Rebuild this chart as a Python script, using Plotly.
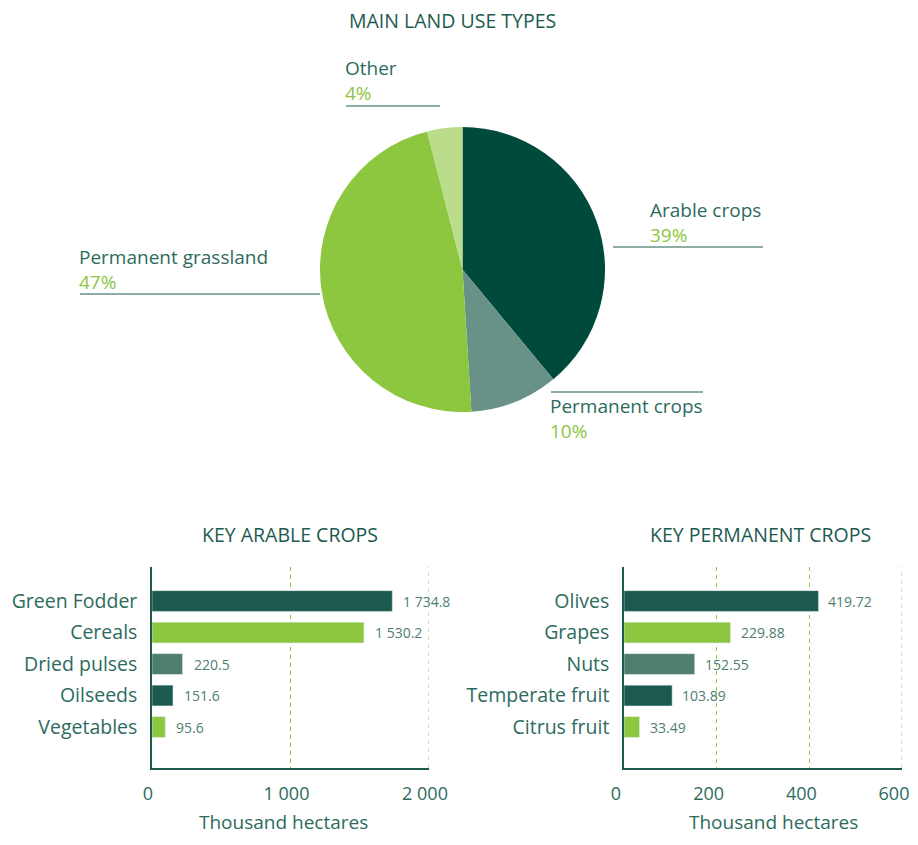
"""Land use overview: pie of main land use types plus two bar charts of key crops."""

import plotly.graph_objects as go

# page body has an 8px margin, so the figure is drawn 8px in from the corner
OFF = 8
W, H = 918 - 2 * OFF, 845 - 2 * OFF

DARK = "#1c5a4e"
MID = "#4e7e70"
LIME = "#8dc63f"
TEXT = "#2d6b5d"
FONT = "Open Sans, sans-serif"

# pie data
land_types = ["Arable crops", "Permanent crops", "Permanent grassland", "Other"]
land_shares = [39, 10, 47, 4]
land_colors = ["#004a3c", "#689188", LIME, "#badc8b"]

# key arable crops (thousand hectares)
arable_crops = ["Green Fodder", "Cereals", "Dried pulses", "Oilseeds", "Vegetables"]
arable_values = [1734.8, 1530.2, 220.5, 151.6, 95.6]
arable_ticks = [0, 1000, 2000]

# key permanent crops (thousand hectares)
perm_crops = ["Olives", "Grapes", "Nuts", "Temperate fruit", "Citrus fruit"]
perm_values = [419.72, 229.88, 152.55, 103.89, 33.49]
perm_ticks = [0, 200, 400, 600]

bar_colors = [DARK, LIME, MID, DARK, LIME]
value_title = "Thousand hectares"


def px_x(x):
    return (x - OFF) / W


def px_y(y):
    return 1 - (y - OFF) / H


def fmt(v, nd):
    return f"{v:,.{nd}f}".replace(",", " ")


fig = go.Figure()

fig.add_trace(
    go.Pie(
        labels=land_types,
        values=land_shares,
        marker=dict(colors=land_colors, line=dict(width=0)),
        sort=False,
        direction="clockwise",
        rotation=0,
        textinfo="none",
        hoverinfo="label+percent",
        showlegend=False,
        domain=dict(x=[px_x(320), px_x(605)], y=[px_y(412), px_y(127)]),
    )
)

fig.add_trace(
    go.Bar(
        x=arable_values,
        y=arable_crops,
        orientation="h",
        marker=dict(color=bar_colors),
        width=0.66,
        showlegend=False,
        xaxis="x",
        yaxis="y",
    )
)
fig.add_trace(
    go.Bar(
        x=perm_values,
        y=perm_crops,
        orientation="h",
        marker=dict(color=bar_colors),
        width=0.66,
        showlegend=False,
        xaxis="x2",
        yaxis="y2",
    )
)

annotations = []
for crop, v in zip(arable_crops, arable_values):
    annotations.append(dict(x=v, y=crop, xref="x", yref="y", text=fmt(v, 1), showarrow=False,
                            xanchor="left", xshift=9, font=dict(size=14, color=MID)))
for crop, v in zip(perm_crops, perm_values):
    annotations.append(dict(x=v, y=crop, xref="x2", yref="y2", text=fmt(v, 2), showarrow=False,
                            xanchor="left", xshift=8, font=dict(size=14, color=MID)))

# pie labels with leader lines: (label, share, text left px, text bottom px, line y, line x0, line x1)
pie_label_pos = [
    ("Other", 4, 343, 108, 106, 346, 440),
    ("Arable crops", 39, 648, 250, 247, 613, 763),
    ("Permanent grassland", 47, 77, 297, 294, 80, 320),
    ("Permanent crops", 10, 548, 446, 392, 551, 703),
]
shapes = []
for name, share, tx, tb, ly, lx0, lx1 in pie_label_pos:
    annotations.append(dict(
        x=px_x(tx), y=px_y(tb), xref="paper", yref="paper", xanchor="left", yanchor="bottom",
        align="left", showarrow=False,
        text=f"{name}<br><span style='color:{LIME}'>{share}%</span>",
        font=dict(size=19, color=TEXT),
    ))
    shapes.append(dict(type="line", xref="paper", yref="paper", x0=px_x(lx0), x1=px_x(lx1),
                       y0=px_y(ly), y1=px_y(ly), line=dict(color=DARK, width=1)))

titles = [("MAIN LAND USE TYPES", 452, 21), ("KEY ARABLE CROPS", 290, 534), ("KEY PERMANENT CROPS", 760, 534)]
for t, cx, cy in titles:
    annotations.append(dict(x=px_x(cx), y=px_y(cy), xref="paper", yref="paper", text=t, showarrow=False,
                            xanchor="center", yanchor="middle", font=dict(size=19.5, color=DARK)))

# value-axis titles under each bar chart
for cx in (283, 773):
    annotations.append(dict(x=px_x(cx), y=px_y(822), xref="paper", yref="paper", text=value_title,
                            showarrow=False, xanchor="center", yanchor="middle",
                            font=dict(size=19, color=TEXT)))

# dashed gridline at the far end of each value axis (plotly skips the edge one)
for xref, yref, ticks in (("x", "y domain", arable_ticks), ("x2", "y2 domain", perm_ticks)):
    shapes.append(dict(type="line", xref=xref, yref=yref, x0=ticks[-1], x1=ticks[-1], y0=0, y1=1,
                       line=dict(color="#a9d46e", width=1.2, dash="4px,4px"), layer="below"))

xaxis_common = dict(
    showgrid=True,
    gridcolor=LIME,
    griddash="4px,4px",
    gridwidth=1.2,
    zeroline=False,
    showline=True,
    linecolor=DARK,
    linewidth=1.5,
    ticks="",
    ticklabelstandoff=9,
    tickfont=dict(size=18, color=TEXT),
    tickformat=",d",
    automargin=False,
    fixedrange=True,
)
yaxis_common = dict(
    showgrid=False,
    zeroline=False,
    showline=True,
    linecolor=DARK,
    linewidth=1.5,
    ticks="",
    ticklabelstandoff=9,
    tickfont=dict(size=19.5, color=TEXT),
    range=[5.3, -1.08],
    domain=[px_y(768), px_y(567)],
    automargin=False,
    fixedrange=True,
)

fig.update_layout(
    width=W,
    height=H,
    margin=dict(l=0, r=0, t=0, b=0),
    paper_bgcolor="white",
    plot_bgcolor="white",
    font=dict(family=FONT, color=TEXT),
    separators=". ",
    xaxis=dict(xaxis_common, domain=[px_x(152), px_x(429)], range=[0, 2000], tickvals=arable_ticks,
               ticklabelshift=-4, anchor="y"),
    yaxis=dict(yaxis_common, anchor="x"),
    xaxis2=dict(xaxis_common, domain=[px_x(624), px_x(902)], range=[0, 600], tickvals=perm_ticks,
                ticklabelshift=-8, anchor="y2"),
    yaxis2=dict(yaxis_common, anchor="x2"),
    annotations=annotations,
    shapes=shapes,
)

fig.write_html("out.html")
